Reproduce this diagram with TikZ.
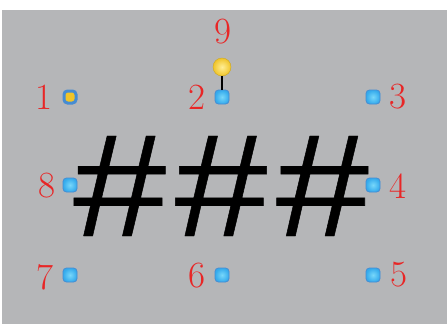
\documentclass[tikz,border=0pt]{standalone}
\usepackage{fontspec}
\newfontfamily\hashfont{Liberation Mono}[FakeBold=0.3]
\usetikzlibrary{shapes.geometric}
\definecolor{bggray}{RGB}{181,182,184}
\definecolor{numred}{RGB}{232,38,38}
\definecolor{hblue}{RGB}{52,170,236}
\definecolor{hblueL}{RGB}{120,215,250}
\definecolor{hedge}{RGB}{70,140,210}
\definecolor{ballY}{RGB}{240,196,40}
\definecolor{ballYL}{RGB}{255,238,150}
\tikzset{
  handle/.style={draw=hedge, line width=0.8pt, rounded corners=3.5pt, minimum size=14pt, inner sep=0pt,
    inner color=hblueL, outer color=hblue},
  yhandle/.style={draw=hedge, line width=3pt, rounded corners=3.5pt, minimum size=12pt, inner sep=0pt,
    fill=ballY},
  num/.style={text=numred, inner sep=0pt, font=\fontsize{37}{37}\selectfont},
  ball/.style={circle, minimum size=18pt, inner sep=0pt, inner color=ballYL, outer color=ballY, draw=ballY!85!black, line width=0.4pt},
  stem/.style={line width=1.5pt, black}
}
\begin{document}
\begin{tikzpicture}[x=1pt,y=-1pt]
\useasboundingbox (0,0) rectangle (447,324);
\fill[white] (0,0) rectangle (447,324);
\fill[bggray] (2,10) rectangle (447,324);
% ### text
\node[inner sep=0pt, anchor=center] (hash) at (221.5,186) {\resizebox{304pt}{100pt}{\hashfont\#\#\#}};
% handles
\node[yhandle] (h1) at (70,97) {};
\node[handle] (h2) at (222,97) {};
\node[handle] (h3) at (373,97) {};
\node[handle] (h4) at (373,185) {};
\node[handle] (h5) at (373,275) {};
\node[handle] (h6) at (222,275) {};
\node[handle] (h7) at (70,275) {};
\node[handle] (h8) at (70,185) {};
\node[ball] (h9) at (222,67) {};
\draw[stem] (h9.south) -- (h2.north);
% labels
\node[num] (l1) at (44,97) {1};
\node[num] (l2) at (197,97) {2};
\node[num] (l3) at (398,97) {3};
\node[num] (l4) at (398,186) {4};
\node[num] (l5) at (399,275) {5};
\node[num] (l6) at (197,276) {6};
\node[num] (l7) at (45,277) {7};
\node[num] (l8) at (47,186) {8};
\node[num] (l9) at (223,32) {9};
\end{tikzpicture}
\end{document}
